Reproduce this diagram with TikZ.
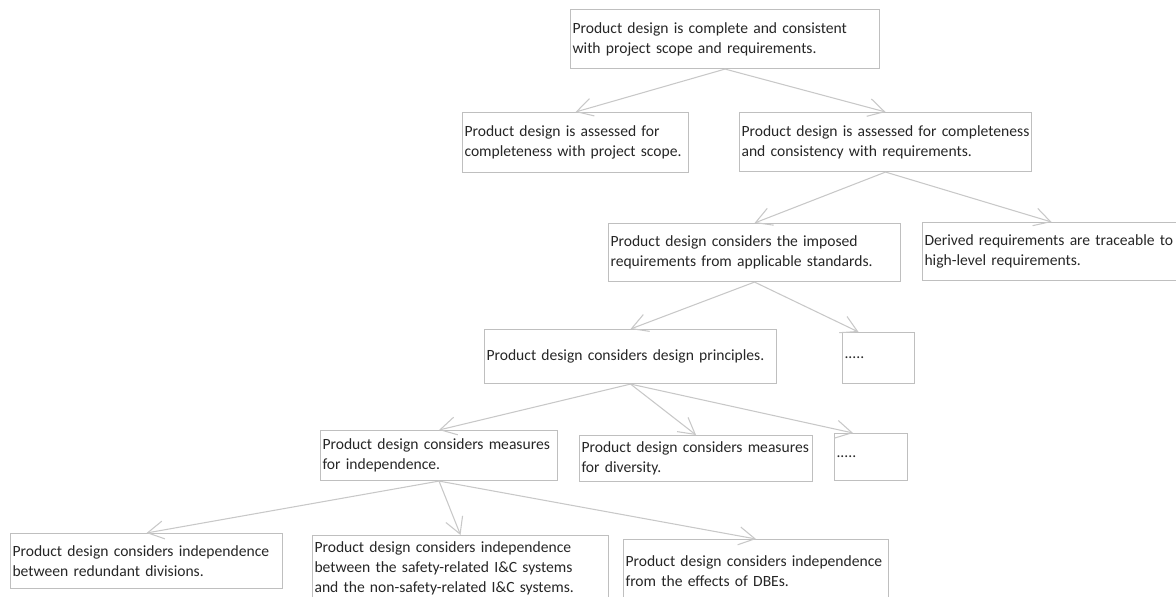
\documentclass[tikz,border=0pt]{standalone}
\usepackage{fontspec}
\setmainfont{Carlito}
\usetikzlibrary{arrows.meta}
\definecolor{boxgray}{HTML}{BFBFBF}
\definecolor{arrowgray}{HTML}{C8C8C8}
\definecolor{textgray}{HTML}{262626}
\begin{document}
\begin{tikzpicture}[x=0.75pt, y=-0.75pt,
        box/.style={draw=boxgray, line width=0.8pt, anchor=north west, align=left, inner xsep=1.5pt, inner ysep=0pt, text=textgray, font=\fontsize{11.7}{15}\selectfont},
        link/.style={draw=arrowgray, line width=0.8pt, -{Straight Barb[length=12pt, width=13.5pt]}}]
        \useasboundingbox (0,0) rectangle (1176,596);
        \node[box, text width=228.75pt, minimum height=44.25pt] (T) at (570,9) {Product design is complete and consistent\\with project scope and requirements.};
        \node[box, text width=166.5pt, minimum height=45pt] (A) at (462,112) {Product design is assessed for\\completeness with project scope.};
        \node[box, text width=216pt, minimum height=44.25pt] (B) at (739,112) {Product design is assessed for completeness\\and consistency with requirements.};
        \node[box, text width=216pt, minimum height=43.5pt] (C) at (608,223) {Product design considers the imposed\\requirements from applicable standards.};
        \node[box, text width=190.5pt, minimum height=43.5pt] (D) at (922,222) {Derived requirements are traceable to\\high-level requirements.};
        \node[box, text width=216pt, minimum height=40.5pt] (E) at (484,329) {Product design considers design principles.};
        \node[box, text width=51pt, minimum height=38.25pt] (F) at (842,332) {.....};
        \node[box, text width=174.75pt, minimum height=37.5pt] (G) at (320,430) {Product design considers measures\\for independence.};
        \node[box, text width=171.75pt, minimum height=34.5pt] (H) at (579,435) {Product design considers measures\\for diversity.};
        \node[box, text width=51.75pt, minimum height=35.25pt] (I) at (834,433) {.....};
        \node[box, text width=201pt, minimum height=41.25pt] (J) at (10,533) {Product design considers independence\\between redundant divisions.};
        \node[box, text width=219pt, minimum height=48.75pt] (K) at (312,535) {Product design considers independence\\between the safety-related I\&C systems\\and the non-safety-related I\&C systems.};
        \node[box, text width=195.75pt, minimum height=47.25pt] (L) at (623,539) {Product design considers independence\\from the effects of DBEs.};
        \draw[link] (T.south) -- (A.north);
        \draw[link] (T.south) -- (B.north);
        \draw[link] (B.south) -- (C.north);
        \draw[link] (B.south) -- (D.north);
        \draw[link] (C.south) -- (E.north);
        \draw[link] (C.south) -- ([xshift=-15pt]F.north);
        \draw[link] (E.south) -- (G.north);
        \draw[link] (E.south) -- (H.north);
        \draw[link] (E.south) -- ([xshift=-13.5pt]I.north);
        \draw[link] (G.south) -- (J.north);
        \draw[link] (G.south) -- (K.north);
        \draw[link] (G.south) -- (L.north);
    \end{tikzpicture}
\end{document}
